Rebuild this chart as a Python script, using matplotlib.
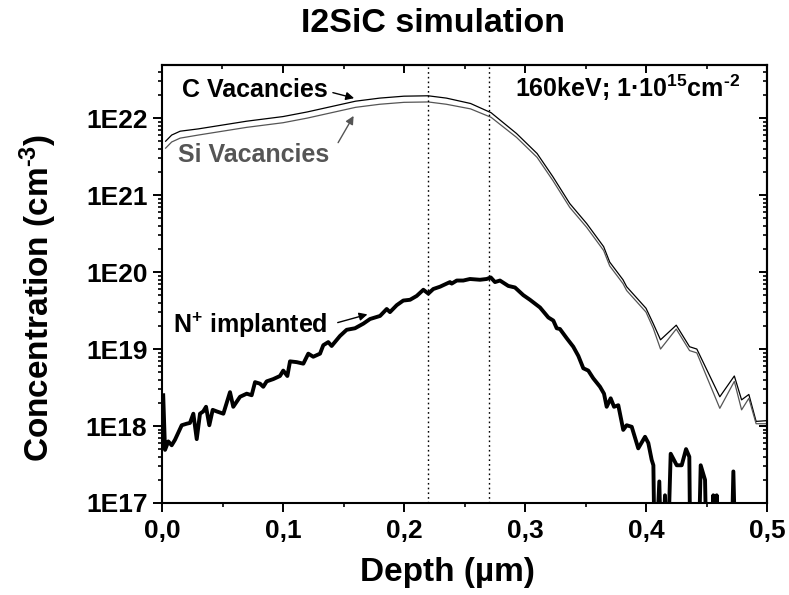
import numpy as np
import matplotlib
matplotlib.use('Agg')
import matplotlib.pyplot as plt
from matplotlib.ticker import MultipleLocator, LogLocator, FixedLocator, FuncFormatter, NullFormatter

plt.rcParams['font.family'] = ['Liberation Sans', 'DejaVu Sans']
plt.rcParams['font.weight'] = 'bold'
plt.rcParams['mathtext.fontset'] = 'custom'
plt.rcParams['mathtext.rm'] = 'Liberation Sans:bold'
plt.rcParams['mathtext.it'] = 'Liberation Sans:bold'
plt.rcParams['mathtext.bf'] = 'Liberation Sans:bold'

# vacancy profiles (depth in um, log10 of concentration)
depth_vac = [0.003, 0.008, 0.015, 0.03, 0.05, 0.07, 0.09, 0.10, 0.12, 0.14, 0.16, 0.18,
             0.20, 0.22, 0.235, 0.255, 0.272, 0.293, 0.31, 0.323, 0.337, 0.351, 0.365,
             0.370, 0.381, 0.384, 0.40, 0.406, 0.412, 0.425, 0.436, 0.442, 0.461, 0.473,
             0.479, 0.485, 0.491, 0.5]
log_c_vac = [21.70, 21.78, 21.83, 21.86, 21.91, 21.96, 22.00, 22.02, 22.08, 22.15, 22.22, 22.26,
             22.285, 22.29, 22.26, 22.19, 22.07, 21.80, 21.54, 21.24, 20.89, 20.63, 20.33,
             20.13, 19.90, 19.81, 19.53, 19.33, 19.12, 19.31, 19.03, 19.00, 18.38, 18.65,
             18.34, 18.41, 18.06, 18.07]
log_si_vac = [21.61, 21.69, 21.74, 21.78, 21.83, 21.88, 21.92, 21.94, 22.00, 22.07, 22.14, 22.18,
              22.205, 22.21, 22.18, 22.12, 22.01, 21.75, 21.49, 21.19, 20.84, 20.58, 20.28,
              20.08, 19.85, 19.76, 19.48, 19.27, 19.00, 19.26, 18.98, 18.95, 18.23, 18.58,
              18.21, 18.36, 18.03, 18.03]

# implanted nitrogen profile (16.0 = below the axis)
depth_n = [0.001, 0.0025, 0.0052, 0.008, 0.0107, 0.0163, 0.0204, 0.0231, 0.0259, 0.0287,
           0.0314, 0.0341, 0.0364, 0.0391, 0.0419, 0.0452, 0.0507, 0.0562, 0.0589, 0.0645,
           0.070, 0.0741, 0.0769, 0.081, 0.0837, 0.0865, 0.092, 0.0975, 0.1002, 0.1036,
           0.1058, 0.1113, 0.1168, 0.1209, 0.125, 0.1306, 0.1333, 0.1374, 0.1402, 0.1471,
           0.1526, 0.1595, 0.1664, 0.1719, 0.1802, 0.1857, 0.1884, 0.194, 0.1994, 0.205,
           0.2105, 0.216, 0.2201, 0.2242, 0.2298, 0.2325, 0.238, 0.2394, 0.2436, 0.249,
           0.2545, 0.2628, 0.2683, 0.2717, 0.2752, 0.2793, 0.2862, 0.2917, 0.2986, 0.3041,
           0.3124, 0.3193, 0.3234, 0.3262, 0.3289, 0.3345, 0.3399, 0.3441, 0.3482, 0.3523,
           0.3564, 0.362, 0.3653, 0.3675, 0.3708, 0.3736, 0.3771, 0.3812, 0.384, 0.3882,
           0.3936, 0.3992, 0.4019, 0.4047, 0.4061, 0.4074, 0.411, 0.413, 0.4157, 0.4174,
           0.4204, 0.4254, 0.4295, 0.4331, 0.4358, 0.4368, 0.443, 0.4452, 0.4488, 0.4504,
           0.4545, 0.4556, 0.457, 0.4584, 0.4595, 0.4702, 0.4722, 0.4744, 0.5]
log_n = [18.40, 17.69, 17.80, 17.75, 17.82, 18.01, 18.03, 18.04, 18.16, 17.83,
         18.16, 18.19, 18.25, 18.01, 18.21, 18.19, 18.16, 18.44, 18.25, 18.38,
         18.42, 18.40, 18.57, 18.55, 18.51, 18.58, 18.61, 18.65, 18.72, 18.65,
         18.84, 18.83, 18.81, 18.94, 18.90, 18.94, 19.05, 19.09, 19.04, 19.17,
         19.25, 19.27, 19.33, 19.39, 19.43, 19.52, 19.48, 19.57, 19.63, 19.64,
         19.69, 19.77, 19.72, 19.78, 19.81, 19.83, 19.87, 19.85, 19.89, 19.89,
         19.91, 19.90, 19.91, 19.93, 19.87, 19.89, 19.82, 19.80, 19.70, 19.64,
         19.54, 19.41, 19.37, 19.27, 19.26, 19.14, 19.03, 18.91, 18.75, 18.72,
         18.62, 18.51, 18.42, 18.25, 18.36, 18.25, 18.27, 17.95, 18.01, 17.99,
         17.71, 17.86, 17.78, 17.56, 17.49, 16.0, 17.28, 16.0, 17.10, 16.0,
         17.64, 17.49, 17.49, 17.70, 17.60, 16.0, 16.0, 17.49, 17.30, 16.0,
         16.0, 17.10, 16.0, 17.10, 16.0, 16.0, 17.41, 16.0, 16.0]

marker_depths = [0.22, 0.27]
y_ticks = [1e17, 1e18, 1e19, 1e20, 1e21, 1e22]

fig = plt.figure(figsize=(7.89, 5.95), dpi=100)
ax = fig.add_axes([162 / 789, 1 - 503 / 595, 605 / 789, 438 / 595])
ax.set_yscale('log')

ax.plot(depth_vac, 10 ** np.array(log_c_vac), color='black', lw=0.9)
ax.plot(depth_vac, 10 ** np.array(log_si_vac), color='#555555', lw=0.9)
ax.plot(depth_n, 10 ** np.array(log_n), color='black', lw=2.8, solid_joinstyle='round')

for d in marker_depths:
    ax.axvline(d, color='black', ls=(0, (1.2, 2.2)), lw=1.0)

ax.set_xlim(0, 0.5)
ax.set_ylim(1e17, 10 ** 22.69)

ax.xaxis.set_major_locator(MultipleLocator(0.1))
ax.xaxis.set_minor_locator(MultipleLocator(0.05))
ax.xaxis.set_major_formatter(FuncFormatter(lambda v, p: f'{v:.1f}'.replace('.', ',')))
ax.yaxis.set_major_locator(FixedLocator(y_ticks))
ax.yaxis.set_minor_locator(LogLocator(base=10, subs=np.arange(2, 10)))
ax.yaxis.set_major_formatter(FuncFormatter(lambda v, p: f'1E{int(round(np.log10(v)))}'))
ax.yaxis.set_minor_formatter(NullFormatter())

ax.tick_params(which='major', direction='out', length=6.5, width=1.4, labelsize=19, pad=4)
ax.tick_params(which='minor', direction='out', length=3.2, width=1.2)
ax.tick_params(axis='x', pad=5)
for s in ax.spines.values():
    s.set_linewidth(1.5)

# mirrored ticks pointing inward on top and right
top = ax.secondary_xaxis('top')
top.xaxis.set_major_locator(MultipleLocator(0.1))
top.xaxis.set_minor_locator(MultipleLocator(0.05))
top.xaxis.set_major_formatter(NullFormatter())
top.tick_params(which='major', direction='in', length=6, width=1.4)
top.tick_params(which='minor', direction='in', length=3.2, width=1.2)
right = ax.secondary_yaxis('right')
right.yaxis.set_major_locator(FixedLocator(y_ticks))
right.yaxis.set_minor_locator(LogLocator(base=10, subs=np.arange(2, 10)))
right.yaxis.set_major_formatter(NullFormatter())
right.yaxis.set_minor_formatter(NullFormatter())
right.tick_params(which='major', direction='in', length=6, width=1.4)
right.tick_params(which='minor', direction='in', length=3.2, width=1.2)
for sa in (top, right):
    for s in sa.spines.values():
        s.set_linewidth(1.5)

ax.text(0.077, 10 ** 22.273, 'C Vacancies', fontsize=18, ha='center', va='baseline')
ax.text(0.076, 10 ** 21.43, 'Si Vacancies', fontsize=18, ha='center', va='baseline', color='#555555')
ax.text(0.0727, 10 ** 19.208, 'N$^{+}$ implanted', fontsize=18, ha='center', va='baseline')
ax.text(0.3847, 10 ** 22.273, '160keV; 1·10$^{15}$cm$^{\u20102}$', fontsize=18, ha='center', va='baseline')

ax.annotate('', xy=(0.161, 10 ** 22.25), xytext=(0.139, 10 ** 22.34),
            arrowprops=dict(arrowstyle='-|>', color='black', lw=1.0, mutation_scale=12))
ax.annotate('', xy=(0.1595, 10 ** 22.06), xytext=(0.1444, 10 ** 21.65),
            arrowprops=dict(arrowstyle='-|>', color='#555555', lw=1.0, mutation_scale=12))
ax.annotate('', xy=(0.172, 10 ** 19.46), xytext=(0.143, 10 ** 19.334),
            arrowprops=dict(arrowstyle='-|>', color='black', lw=1.0, mutation_scale=12))

fig.text(433 / 789, 1 - 23 / 595, 'I2SiC simulation', fontsize=24.5, ha='center', va='center')
fig.text(447 / 789, 1 - 572 / 595, 'Depth (µm)', fontsize=24, ha='center', va='center')
fig.text(38 / 789, 1 - 298 / 595, 'Concentration (cm$^{\u20103}$)', fontsize=24, ha='center', va='center',
         rotation=90)

fig.savefig('out.png', dpi=100)
